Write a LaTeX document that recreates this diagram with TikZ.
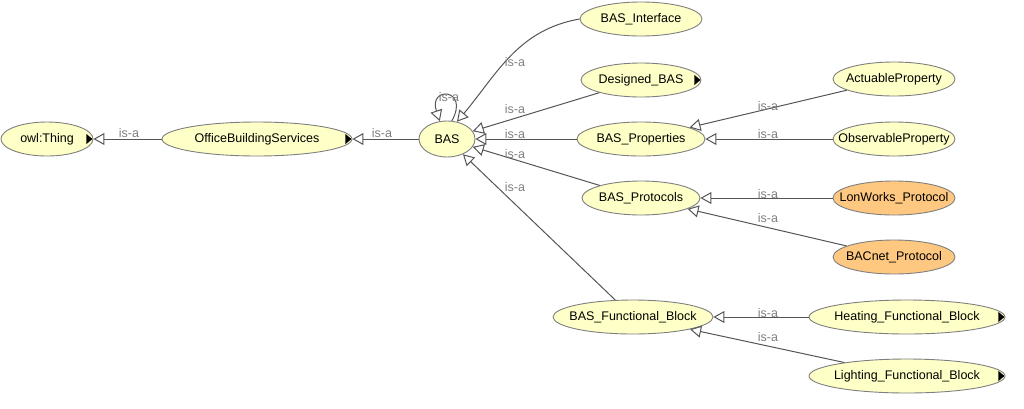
\documentclass[tikz,border=0pt]{standalone}
\usepackage{fontspec}
\setmainfont{Liberation Sans}
\usetikzlibrary{arrows.meta,shapes.geometric}
\definecolor{cy}{HTML}{FFFFC8}
\definecolor{co}{HTML}{FFC880}
\definecolor{cb}{HTML}{7F7F7F}
\definecolor{ce}{HTML}{555555}
\begin{document}
\begin{tikzpicture}[x=1pt,y=-1pt,
  cls/.style={ellipse,draw=cb,fill=cy,line width=0.9pt,minimum height=34pt,inner ysep=0pt,inner xsep=-14pt,font=\fontsize{12.5}{14}\selectfont},
  ind/.style={cls,fill=co},
  isa/.style={draw=ce,line width=1pt,-{Triangle[open,length=11pt,width=12pt]}},
  lab/.style={text=cb,font=\fontsize{12.5}{14}\selectfont,inner sep=0pt},
  more/.style={fill=black}]
\useasboundingbox (0,0) rectangle (1024,408);
\node[cls,minimum width=92pt] (thing) at (47,139) {owl:Thing};
\node[cls,minimum width=190pt] (obs) at (257,139) {OfficeBuildingServices};
\node[cls,minimum width=56pt,minimum height=36pt,inner xsep=0pt] (bas) at (447,139) {BAS};
\node[cls,minimum width=122pt] (ifc) at (641,19) {BAS\_Interface};
\node[cls,minimum width=120pt] (des) at (641,80) {Designed\_BAS};
\node[cls,minimum width=128pt] (prop) at (641,139) {BAS\_Properties};
\node[cls,minimum width=118pt] (prot) at (641,198) {BAS\_Protocols};
\node[cls,minimum width=160pt] (fb) at (633,317) {BAS\_Functional\_Block};
\node[cls,minimum width=122pt] (act) at (894,79) {ActuableProperty};
\node[cls,minimum width=122pt] (obp) at (894,139) {ObservableProperty};
\node[ind,minimum width=122pt] (lon) at (894,198) {LonWorks\_Protocol};
\node[ind,minimum width=122pt] (bac) at (894,257) {BACnet\_Protocol};
\node[cls,minimum width=196pt] (heat) at (907,317) {Heating\_Functional\_Block};
\node[cls,minimum width=196pt] (light) at (907,376) {Lighting\_Functional\_Block};
\foreach \n in {thing,obs,des,heat,light}
  \fill[more] ([xshift=-1pt]\n.east) -- ++(-6,-5) -- ++(0,10) -- cycle;
\draw[isa] (obs) -- (thing);
\draw[isa] (bas) -- (obs);
\draw[isa] (ifc.west) to[out=190,in=50] (bas.60);
\draw[isa] (des) -- (bas);
\draw[isa] (prop) -- (bas);
\draw[isa] (prot) -- (bas);
\draw[isa] (fb) -- (bas);
\draw[isa] (act) -- (prop);
\draw[isa] (obp) -- (prop);
\draw[isa] (lon) -- (prot);
\draw[isa] (bac) -- (prot);
\draw[isa] (heat) -- (fb);
\draw[isa] (light) -- (fb);
\draw[isa] (bas.75) .. controls (470,88) and (428,86) .. (bas.112);
\node[lab] at (449,97) {is-a};
\node[lab] at (129,133) {is-a};
\node[lab] at (382,133) {is-a};
\node[lab] at (515,62) {is-a};
\node[lab] at (515,109) {is-a};
\node[lab] at (515,134) {is-a};
\node[lab] at (515,154) {is-a};
\node[lab] at (515,187) {is-a};
\node[lab] at (768,106) {is-a};
\node[lab] at (768,134) {is-a};
\node[lab] at (768,194) {is-a};
\node[lab] at (768,218) {is-a};
\node[lab] at (768,313) {is-a};
\node[lab] at (768,337) {is-a};
\end{tikzpicture}
\end{document}
